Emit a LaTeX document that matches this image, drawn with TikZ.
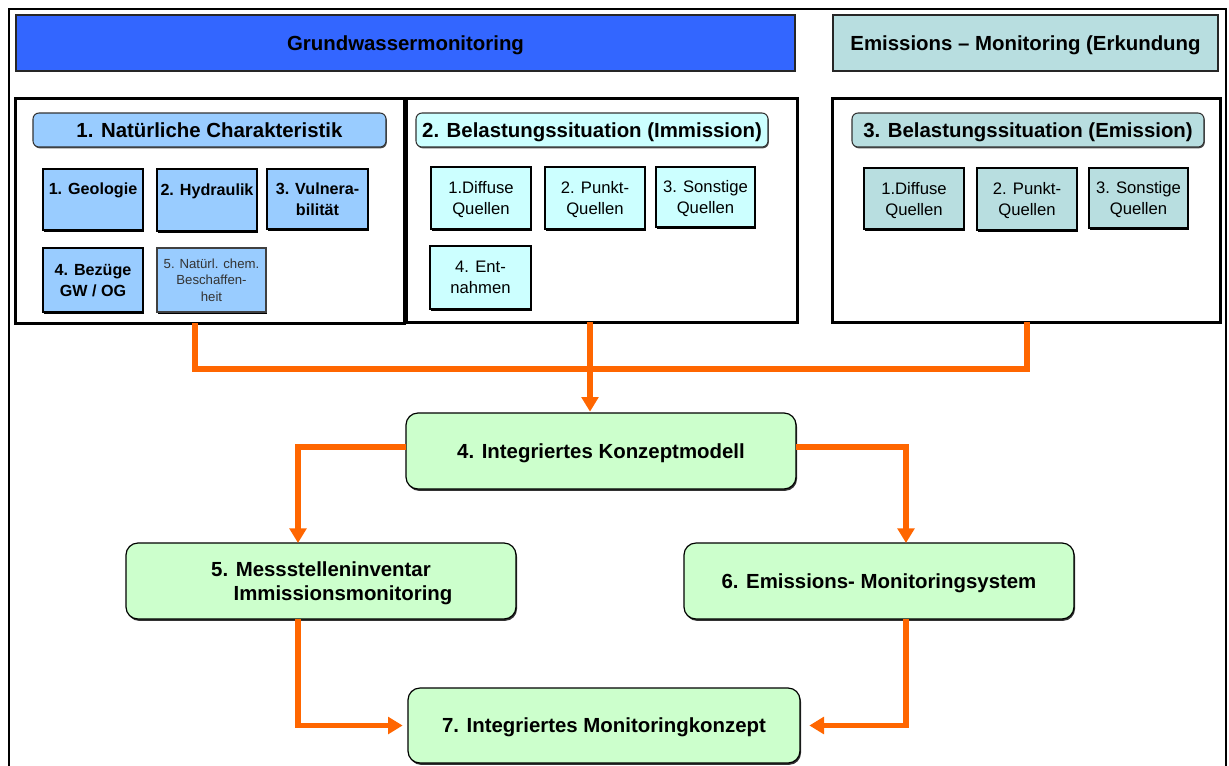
\documentclass[tikz,border=0pt]{standalone}
\usepackage{fontspec}
\setmainfont{Liberation Sans}
\usetikzlibrary{arrows.meta,shadows}

\definecolor{hdrblue}{RGB}{51,102,255}
\definecolor{hdrteal}{RGB}{184,222,224}
\definecolor{natblue}{RGB}{153,204,255}
\definecolor{immcyan}{RGB}{204,255,255}
\definecolor{paleGreen}{RGB}{204,255,204}
\definecolor{flow}{RGB}{255,102,0}

% a box given by its top-left and bottom-right corners (pixel grid, 1px = 0.75pt)
\newcommand\pbox[7]{%
  \pgfmathsetmacro\bxcx{(#3+#5)/2}%
  \pgfmathsetmacro\bxcy{(#4+#6)/2}%
  \pgfmathsetmacro\bxw{(#5-#3)*0.75}%
  \pgfmathsetmacro\bxh{(#6-#4)*0.75}%
  \node[#1, minimum width=\bxw pt, minimum height=\bxh pt] (#2) at (\bxcx,\bxcy) {#7};}
\newcommand\fsz[2]{\fontsize{#1}{#2}\selectfont}

\begin{document}
\begin{tikzpicture}[x=0.75pt, y=-0.75pt,
  every node/.style={inner sep=0pt, outer sep=0pt, align=center, text depth=0pt},
  header/.style={draw=black!85, line width=1.5pt, font=\fsz{15.3pt}{18pt}\bfseries},
  panel/.style={draw=black, line width=2.25pt},
  title/.style={draw=black!80, line width=0.8pt, rounded corners=4.5pt,
    font=\fsz{15.3pt}{18pt}\bfseries,
    drop shadow={shadow xshift=0.6pt, shadow yshift=-1pt, opacity=1, fill=black!70}},
  subbox/.style={draw=black, line width=0.9pt,
    drop shadow={shadow xshift=0.6pt, shadow yshift=-1.2pt, opacity=1, fill=black},
    font=\fsz{12.5pt}{15.75pt}},
  subbold/.style={subbox, font=\fsz{12.1pt}{15.75pt}\bfseries},
  stage/.style={draw=black, line width=0.9pt, fill=paleGreen, rounded corners=9pt,
    drop shadow={shadow xshift=0.8pt, shadow yshift=-1.4pt, opacity=1, fill=black!80},
    font=\fsz{15.3pt}{18pt}\bfseries, text depth=-3pt},
  link/.style={draw=flow, line width=4pt},
  linkarrow/.style={link, -{Triangle[length=11pt, width=12.5pt]}}
]
\useasboundingbox (0,0) rectangle (1229,765);

% outer frame
\draw[line width=1.5pt] (9,9) rectangle (1226,780);

% headers
\pbox{header, fill=hdrblue}{hgw}{16}{15}{795}{71}{Grundwassermonitoring}
\pbox{header, fill=hdrteal}{hem}{833}{15}{1218}{71}{Emissions – Monitoring (Erkundung}

% panels
\pbox{panel}{box1}{15}{98}{404}{323}{}
\pbox{panel}{box2}{406}{98}{797}{322}{}
\pbox{panel}{box3}{832}{98}{1220}{322}{}

% panel titles
\pbox{title, fill=natblue, text depth=-4pt}{t1}{33}{113}{386}{147}{1. Natürliche Charakteristik}
\pbox{title, fill=immcyan}{t2}{416}{113}{768}{147}{2. Belastungssituation (Immission)}
\pbox{title, fill=hdrteal}{t3}{852}{113}{1204}{147}{3. Belastungssituation (Emission)}

% 1. natural characteristics
\pbox{subbold, fill=natblue}{n1}{43}{169}{143}{230}{1. Geologie\\~}
\pbox{subbold, fill=natblue}{n2}{157}{169}{257}{231}{2. Hydraulik\\~}
\pbox{subbold, fill=natblue}{n3}{267}{169}{368}{229}{3. Vulnera-\\bilität}
\pbox{subbold, fill=natblue}{n4}{43}{248}{143}{312}{4. Bezüge\\GW / OG}
\pbox{subbox, fill=natblue, draw=black!75, font=\fsz{9.9pt}{12.4pt}\color{black!80}}{n5}{157}{248}{266}{312}{5. Natürl. chem.\\Beschaffen-\\heit}

% 2. immission sources
\pbox{subbox, fill=immcyan}{i1}{431}{167}{531}{229}{1.Diffuse\\Quellen}
\pbox{subbox, fill=immcyan}{i2}{545}{167}{645}{229}{2. Punkt-\\Quellen}
\pbox{subbox, fill=immcyan}{i3}{656}{167}{755}{227}{3. Sonstige\\Quellen}
\pbox{subbox, fill=immcyan}{i4}{430}{246}{531}{309}{4. Ent-\\nahmen}

% 3. emission sources
\pbox{subbox, fill=hdrteal}{e1}{864}{168}{964}{229}{1.Diffuse\\Quellen}
\pbox{subbox, fill=hdrteal}{e2}{977}{168}{1077}{230}{2. Punkt-\\Quellen}
\pbox{subbox, fill=hdrteal}{e3}{1089}{168}{1188}{228}{3. Sonstige\\Quellen}

% process stages
\pbox{stage}{s4}{406}{413}{796}{489}{4. Integriertes Konzeptmodell}
\pbox{stage}{s5}{126}{543}{516}{619}{5. Messstelleninventar\\\hspace*{33pt}Immissionsmonitoring}
\pbox{stage}{s6}{684}{543}{1074}{619}{6. Emissions- Monitoringsystem}
\pbox{stage, text depth=-4.5pt}{s7}{408}{688}{800}{763}{7. Integriertes Monitoringkonzept}

% connector guide lines
\coordinate (busL) at (195,369);
\coordinate (busR) at (1027,369);
\coordinate (mid) at (590,0);
\coordinate (colL) at (298,0);
\coordinate (colR) at (906,0);

% panels feed the integrated concept model
\draw[link] (box1.south -| busL) -- (busL) -- (busR) -- (box3.south -| busR);
\draw[linkarrow] (box2.south -| mid) -- ([yshift=1pt]s4.north -| mid);

% concept model feeds the two monitoring systems
\draw[linkarrow] (s4.west |- 0,447) -| (s5.north -| colL);
\draw[linkarrow] (s4.east |- 0,447) -| (s6.north -| colR);

% both systems feed the integrated monitoring concept
\draw[linkarrow] (s5.south -| colL) |- ([xshift=-4pt]s7.west);
\draw[linkarrow] (s6.south -| colR) |- ([xshift=7pt]s7.east);
\end{tikzpicture}
\end{document}
